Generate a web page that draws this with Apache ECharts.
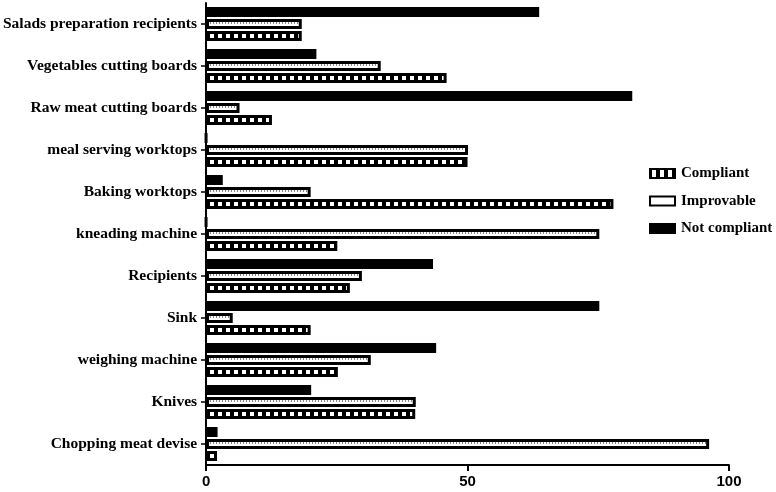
<!DOCTYPE html>
<html>
<head>
<meta charset="utf-8">
<script src="https://cdn.jsdelivr.net/npm/echarts@6/dist/echarts.min.js"></script>
<style>
  html, body { margin: 0; padding: 0; background: #fff; }
  #main { width: 776px; height: 492px; }
</style>
</head>
<body>
<div id="main"></div>
<script>
// categories, bottom to top (category axis starts at the bottom)
const categories = [
  "Chopping meat devise",
  "Knives",
  "weighing machine",
  "Sink",
  "Recipients",
  "kneading machine",
  "Baking worktops",
  "meal serving worktops",
  "Raw meat cutting boards",
  "Vegetables cutting boards",
  "Salads preparation recipients",
];
const compliant = [2.1, 40, 25.2, 20, 27.5, 25.1, 77.9, 50, 12.6, 46, 18.3];
const improvable = [96.2, 40.1, 31.5, 5.1, 29.8, 75.2, 20, 50.1, 6.4, 33.4, 18.3];
const notCompliant = [2.2, 20.1, 44, 75.2, 43.4, 0, 3.2, 0, 81.5, 21.1, 63.7];
const xTicks = [0, 50, 100];

// patterns
function stripePattern() {
  const c = document.createElement("canvas");
  c.width = 8;
  c.height = 8;
  const ctx = c.getContext("2d");
  ctx.fillStyle = "#000";
  ctx.fillRect(0, 0, 8, 8);
  ctx.fillStyle = "#fff";
  ctx.fillRect(2, 0, 4, 8);
  return c;
}
function dotPattern() {
  // dotted row once per 42px band, at the band centre
  const c = document.createElement("canvas");
  c.width = 3;
  c.height = 42;
  const ctx = c.getContext("2d");
  ctx.fillStyle = "#fff";
  ctx.fillRect(0, 0, 3, 42);
  ctx.fillStyle = "#8a8a8a";
  ctx.fillRect(0, 22, 1, 2);
  return c;
}

const chart = echarts.init(document.getElementById("main"), null, { renderer: "canvas" });

// border is drawn inside the bar, so 10px bar = 3px black + 4px inside + 3px black
const barBase = {
  type: "bar",
  barWidth: 10,
  barGap: "20%",
  animation: false,
};

const option = {
  backgroundColor: "#fff",
  animation: false,
  grid: { left: 205, right: 47, top: 3, height: 462 },
  legend: {
    orient: "vertical",
    left: 644,
    top: 161,
    icon: "rect",
    itemWidth: 25,
    itemHeight: 9,
    itemGap: 12.5,
    data: ["Compliant", "Improvable", "Not compliant"],
    textStyle: {
      fontFamily: "Liberation Serif",
      fontWeight: "bold",
      fontSize: 15,
      color: "#000",
      padding: [0, 0, 0, 1],
    },
  },
  xAxis: {
    type: "value",
    min: 0,
    max: 100,
    interval: 50,
    splitLine: { show: false },
    axisLine: { show: true, lineStyle: { color: "#000", width: 2 } },
    axisTick: { show: true, length: 6, lineStyle: { color: "#000", width: 2 } },
    axisLabel: {
      color: "#000",
      fontFamily: "Liberation Sans",
      fontWeight: "bold",
      fontSize: 15,
      margin: 9,
      formatter: (v) => (xTicks.includes(v) ? String(v) : ""),
    },
  },
  yAxis: {
    type: "category",
    data: categories,
    axisLine: { show: true, lineStyle: { color: "#000", width: 2 } },
    axisTick: { show: true, alignWithLabel: true, length: 5, lineStyle: { color: "#000", width: 1.5 } },
    axisLabel: {
      color: "#000",
      fontFamily: "Liberation Serif",
      fontWeight: "bold",
      fontSize: 15.5,
      margin: 9,
    },
  },
  // series order top to bottom inside a band
  series: [
    {
      ...barBase,
      name: "Not compliant",
      data: notCompliant,
      itemStyle: {
        color: "#000",
        borderColor: "#000",
        borderWidth: 3,
      },
    },
    {
      ...barBase,
      name: "Improvable",
      data: improvable,
      itemStyle: {
        color: { image: dotPattern(), repeat: "repeat" },
        borderColor: "#000",
        borderWidth: 3,
      },
    },
    {
      ...barBase,
      name: "Compliant",
      data: compliant,
      itemStyle: {
        color: { image: stripePattern(), repeat: "repeat" },
        borderColor: "#000",
        borderWidth: 3,
      },
    },
  ],
};

chart.setOption(option);
</script>
</body>
</html>
